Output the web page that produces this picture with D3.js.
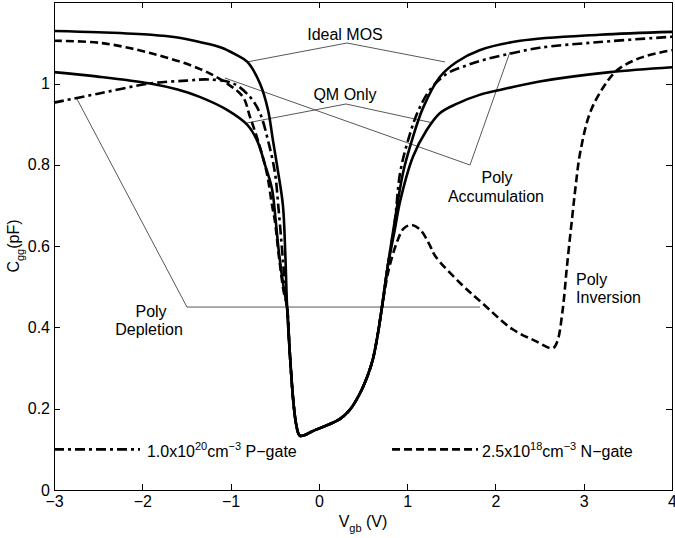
<!DOCTYPE html>
<html>
<head>
<meta charset="utf-8">
<style>
  body { margin: 0; background: #fff; }
  svg text { font-family: "Liberation Sans", Arial, Helvetica, sans-serif; fill: #000; }
  .axis path { display: none; }
  .axis line { stroke: #000; shape-rendering: crispEdges; }
  .axis text { font-size: 16px; }
</style>
</head>
<body>
<svg width="675" height="538"></svg>
<script src="https://cdn.jsdelivr.net/npm/d3@7"></script>
<script>
// x ticks and y ticks
var xTicks = [-3, -2, -1, 0, 1, 2, 3, 4];
var yTicks = [0, 0.2, 0.4, 0.6, 0.8, 1.0];

// part of the C-V curve where all four runs sit on top of each other
var bottom = [[-0.33,0.34],[-0.29,0.22],[-0.26,0.165],[-0.23,0.138],[-0.21,0.133],[-0.15,0.136],
  [-0.07,0.145],[0.1,0.16],[0.24,0.175],[0.35,0.197],[0.466,0.238],[0.55,0.28],[0.61,0.32],
  [0.665,0.38],[0.715,0.45]];

// [Vgb, Cgg]
var idealMos = [[-3,1.129],[-2.5,1.126],[-1.9,1.12],[-1.6,1.113],[-1.35,1.102],[-1.1,1.088],
  [-0.95,1.072],[-0.81,1.053],[-0.667,1.0],[-0.576,0.935],[-0.52,0.86],[-0.46,0.78],[-0.407,0.70],
  [-0.38,0.58],[-0.36,0.45]]
  .concat(bottom)
  .concat([[0.78,0.55],[0.862,0.665],[0.953,0.78],[1.054,0.86],[1.18,0.94],[1.37,1.016],
  [1.56,1.053],[1.82,1.082],[2.28,1.105],[3.18,1.12],[4,1.127]]);

var qmOnly = [[-3,1.028],[-2.5,1.017],[-1.91,1.0],[-1.6,0.985],[-1.35,0.967],[-1.04,0.935],
  [-0.81,0.898],[-0.70,0.86],[-0.61,0.80],[-0.53,0.74],[-0.49,0.665],[-0.45,0.58],[-0.40,0.50],
  [-0.36,0.45]]
  .concat(bottom)
  .concat([[0.78,0.55],[0.86,0.64],[0.92,0.71],[1.066,0.82],[1.22,0.885],[1.37,0.927],
  [1.56,0.95],[1.82,0.972],[2.05,0.984],[2.5,1.005],[3.3,1.028],[4,1.04]]);

var pGate = [[-3,0.953],[-2.5,0.975],[-1.91,1.0],[-1.5,1.007],[-1.25,1.01],[-0.97,1.0],
  [-0.78,0.967],[-0.667,0.927],[-0.576,0.86],[-0.497,0.78],[-0.46,0.70],[-0.42,0.60],
  [-0.39,0.52],[-0.36,0.45]]
  .concat(bottom)
  .concat([[0.78,0.55],[0.86,0.66],[0.92,0.78],[1.01,0.86],[1.12,0.93],[1.26,0.985],
  [1.45,1.024],[1.68,1.045],[1.9,1.06],[2.2,1.075],[2.5,1.088],[3.18,1.102],[4,1.115]]);

var nGate = [[-3,1.105],[-2.48,1.1],[-1.91,1.075],[-1.35,1.036],[-1.04,1.0],[-0.86,0.967],
  [-0.78,0.918],[-0.69,0.86],[-0.59,0.78],[-0.53,0.70],[-0.50,0.665],[-0.45,0.57],
  [-0.40,0.49],[-0.36,0.45]]
  .concat(bottom)
  .concat([[0.77,0.52],[0.80,0.55],[0.88,0.607],[0.96,0.643],[1.05,0.652],[1.15,0.64],
  [1.25,0.605],[1.32,0.575],[1.62,0.505],[1.85,0.46],[2.19,0.396],[2.45,0.367],[2.65,0.349],
  [2.70,0.365],[2.76,0.44],[2.81,0.55],[2.87,0.672],[2.91,0.75],[2.96,0.83],[3.07,0.927],
  [3.22,0.99],[3.38,1.033],[3.64,1.063],[4,1.082]]);

// annotation leader lines, in data units
var leaders = [
  [[-0.814,1.053],[0.319,1.0996],[1.429,1.053]],
  [[-0.814,0.903],[0.307,0.9496],[1.293,0.903]],
  [[-1.063,1.0135],[1.712,0.7995],[2.165,1.0775]],
  [[-2.74,0.962],[-1.494,0.45],[1.825,0.45]]
];
var notes = [
  {text: "Ideal MOS", v: 0.296, c: 1.107, anchor: "middle"},
  {text: "QM Only", v: 0.296, c: 0.959, anchor: "middle"},
  {text: "Poly", v: 2.018, c: 0.755, anchor: "middle"},
  {text: "Accumulation", v: 2.006, c: 0.7085, anchor: "middle"},
  {text: "Poly", v: -1.901, c: 0.4256, anchor: "middle"},
  {text: "Depletion", v: -1.924, c: 0.381, anchor: "middle"},
  {text: "Poly", v: 2.913, c: 0.504, anchor: "start"},
  {text: "Inversion", v: 2.913, c: 0.46, anchor: "start"}
];

var svg = d3.select("svg");
svg.append("rect").attr("width", 675).attr("height", 538).attr("fill", "#fff");

var plotL = 54, plotR = 672, plotT = 2.2, plotB = 490;
var x = d3.scaleLinear().domain([-3, 4]).range([plotL, plotR]);
var y = d3.scaleLinear().domain([0, 1.2]).range([plotB, plotT]);

// axes, ticks pointing inward like matlab
svg.append("g").attr("class", "axis")
  .attr("transform", "translate(0," + plotB + ")")
  .call(d3.axisBottom(x).tickValues(xTicks).tickSize(-6).tickPadding(6)
    .tickFormat(function(d){ return d < 0 ? "\u2212" + Math.abs(d) : String(d); }));
svg.append("g").attr("class", "axis")
  .attr("transform", "translate(0," + plotT + ")")
  .call(d3.axisTop(x).tickValues(xTicks).tickSize(-6).tickFormat(""));
svg.append("g").attr("class", "axis")
  .attr("transform", "translate(" + plotL + ",0)")
  .call(d3.axisLeft(y).tickValues(yTicks).tickSize(-6).tickPadding(4)
    .tickFormat(function(d){ return String(+d.toFixed(1)); }));
svg.append("g").attr("class", "axis")
  .attr("transform", "translate(" + plotR + ",0)")
  .call(d3.axisRight(y).tickValues(yTicks).tickSize(-6).tickFormat(""));

svg.append("rect")
  .attr("x", plotL).attr("y", plotT)
  .attr("width", plotR - plotL).attr("height", plotB - plotT)
  .attr("fill", "none").attr("stroke", "#000").attr("stroke-width", 1)
  .attr("shape-rendering", "crispEdges");

// thin annotation lines
var thin = d3.line().x(function(d){ return x(d[0]); }).y(function(d){ return y(d[1]); });
svg.selectAll(".leader").data(leaders).enter().append("path")
  .attr("class", "leader")
  .attr("d", thin)
  .attr("fill", "none").attr("stroke", "#444").attr("stroke-width", 0.9);

// curves
var line = d3.line()
  .x(function(d){ return x(d[0]); })
  .y(function(d){ return y(d[1]); })
  .curve(d3.curveCatmullRom.alpha(0.5));

var series = [
  {data: idealMos, dash: null},
  {data: qmOnly, dash: null},
  {data: pGate, dash: "10,4,3,4"},
  {data: nGate, dash: "8,4"}
];
svg.selectAll(".curve").data(series).enter().append("path")
  .attr("class", "curve")
  .attr("d", function(d){ return line(d.data); })
  .attr("fill", "none")
  .attr("stroke", "#000")
  .attr("stroke-width", 2.6)
  .attr("stroke-dasharray", function(d){ return d.dash; });

// annotation text
svg.selectAll(".note").data(notes).enter().append("text")
  .attr("class", "note")
  .attr("x", function(d){ return x(d.v); })
  .attr("y", function(d){ return y(d.c); })
  .attr("text-anchor", function(d){ return d.anchor; })
  .attr("font-size", 16)
  .text(function(d){ return d.text; });

// legend entries
var legend = [
  {v0: -3, v1: -2.026, dash: "10,4,3,4", tv: -1.947, base: "1.0x10", sup: "20", tail: " P\u2212gate"},
  {v0: 0.829, v1: 1.803, dash: "8,4", tv: 1.848, base: "2.5x10", sup: "18", tail: " N\u2212gate"}
];
legend.forEach(function(l){
  svg.append("line")
    .attr("x1", x(l.v0)).attr("x2", x(l.v1))
    .attr("y1", y(0.1)).attr("y2", y(0.1))
    .attr("stroke", "#000").attr("stroke-width", 2.6)
    .attr("stroke-dasharray", l.dash);
  var t = svg.append("text").attr("x", x(l.tv)).attr("y", y(0.081)).attr("font-size", 16);
  t.append("tspan").text(l.base);
  t.append("tspan").attr("font-size", 11).attr("dy", -7).text(l.sup);
  t.append("tspan").attr("dy", 7).text("cm");
  t.append("tspan").attr("font-size", 11).attr("dy", -7).text("\u22123");
  t.append("tspan").attr("dy", 7).text(l.tail);
});

// axis titles
var xt = svg.append("text").attr("x", 363).attr("y", 527)
  .attr("text-anchor", "middle").attr("font-size", 16);
xt.append("tspan").text("V");
xt.append("tspan").attr("font-size", 11).attr("dy", 5).text("gb");
xt.append("tspan").attr("dy", -5).text(" (V)");

var yt = svg.append("text")
  .attr("transform", "translate(19,246) rotate(-90)")
  .attr("text-anchor", "middle").attr("font-size", 16);
yt.append("tspan").text("C");
yt.append("tspan").attr("font-size", 11).attr("dy", 5).text("gg");
yt.append("tspan").attr("dy", -5).text("(pF)");
</script>
</body>
</html>
